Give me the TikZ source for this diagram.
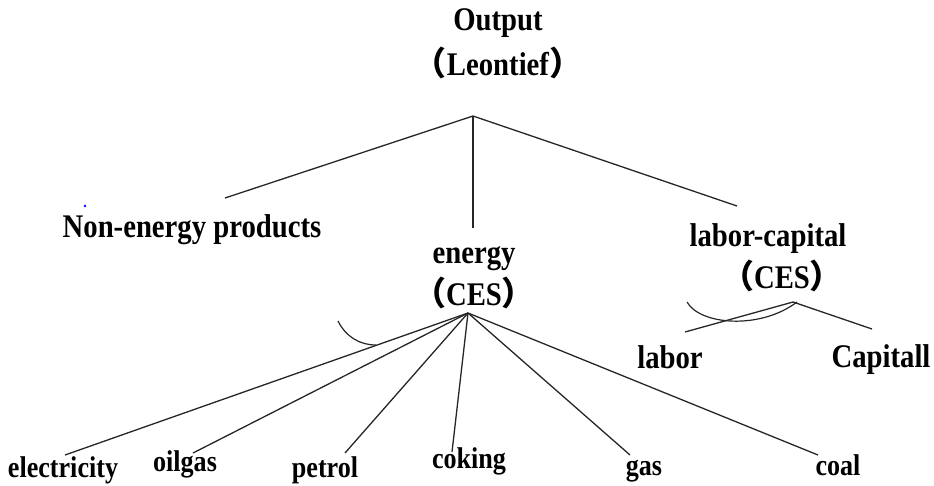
\documentclass[tikz,border=0pt]{standalone}
\usepackage{fontspec}
\setmainfont{Liberation Serif}[FakeStretch=0.87]
\newfontfamily\cjk{Noto Sans CJK SC}
\newcommand{\lpar}{{\cjk （}}
\newcommand{\rpar}{{\cjk ）}}

\tikzset{
  lbl/.style={font=\bfseries\fontsize{33}{33}\selectfont, inner sep=0pt, anchor=base},
  leaf/.style={font=\bfseries\fontsize{30}{30}\selectfont, inner sep=0pt, anchor=base},
  branch/.style={line width=1.3pt, black!85},
  elas/.style={line width=1.2pt, black!85}
}

\begin{document}
\begin{tikzpicture}[x=1pt,y=-1pt]
\useasboundingbox (0,0) rectangle (934,485);

% labels
\node[lbl] (out)   at (498,30)  {Output};
\node[lbl] (leon)  at (498,75)  {\lpar Leontief\rpar};
\node[lbl] (nonen) at (192,237) {Non-energy products};
\node[lbl] (en)    at (474,263) {energy};
\node[lbl] (ences) at (474,305) {\lpar CES\rpar};
\node[lbl] (lc)    at (768,246) {labor-capital};
\node[lbl] (lcces) at (782,288) {\lpar CES\rpar};
\node[lbl] (lab)   at (670,368) {labor};
\node[lbl] (cap)   at (881,367) {Capitall};
\node[leaf] (elec) at (63,477)  {electricity};
\node[leaf] (oil)  at (185,471) {oilgas};
\node[leaf] (pet)  at (325,477) {petrol};
\node[leaf] (cok)  at (469,468) {coking};
\node[leaf] (gas)  at (644,475) {gas};
\node[leaf] (coal) at (838,475) {coal};

% branching points and line ends
\coordinate (top)    at (473,116);
\coordinate (t-non)  at (225,198);
\coordinate (t-en)   at (473,228);
\coordinate (t-lc)   at (737,206);
\coordinate (ep)     at (468,313);
\coordinate (e-elec) at (65,455);
\coordinate (e-oil)  at (193,453);
\coordinate (e-pet)  at (345,453);
\coordinate (e-cok)  at (452,452);
\coordinate (e-gas)  at (630,455);
\coordinate (e-coal) at (818,455);
\coordinate (lp)     at (793,302);
\coordinate (l-lab)  at (685,332);
\coordinate (l-cap)  at (872,329);

% top level
\draw[branch] (t-non) -- (top) -- (t-lc);
\draw[branch] (top) -- (t-en);

% energy nest
\foreach \e in {e-elec,e-oil,e-pet,e-cok,e-gas,e-coal}
  \draw[branch] (ep) -- (\e);

% labor-capital nest
\draw[branch] (l-lab) -- (lp) -- (l-cap);

% substitution arcs
\coordinate (ea1) at (338,321);
\coordinate (ea2) at (376,345);
\draw[elas] (ea1) .. controls (346,337) and (360,345) .. (ea2);
\coordinate (la1) at (687,302);
\coordinate (la2) at (797,302);
\draw[elas] (la1) .. controls (700,325) and (760,330) .. (la2);

% stray mark
\fill[blue] (85,206) circle (1.4);
\end{tikzpicture}
\end{document}
